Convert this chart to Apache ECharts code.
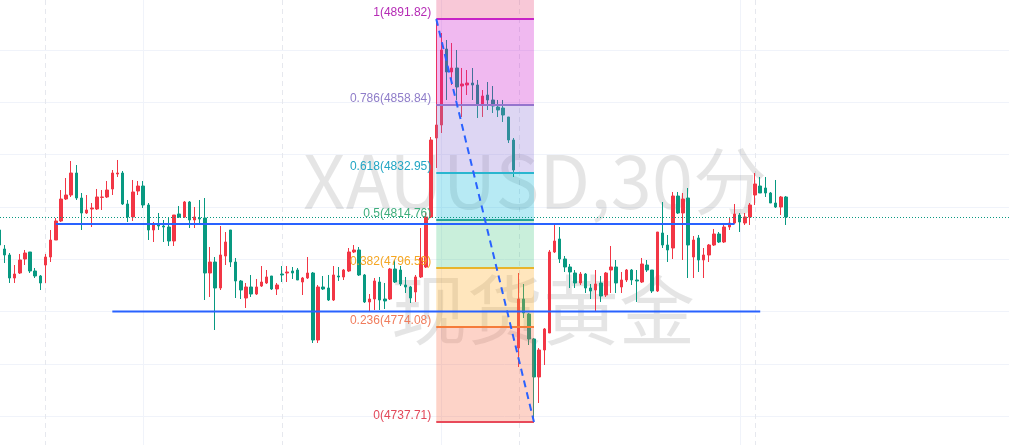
<!DOCTYPE html>
<html><head><meta charset="utf-8">
<script src="https://cdn.jsdelivr.net/npm/echarts@6/dist/echarts.min.js"></script>
<style>html,body{margin:0;padding:0;background:#fff}#c{width:1009px;height:445px}</style>
</head><body><div id="c"></div>
<script>
// ---- data: 30-minute XAUUSD candles [open, close, low, high] ----
const ohlc = [
[4811.13,4805.39,4803.48,4812.66],[4803.86,4801.57,4798.51,4805.39],[4801.57,4792.77,4790.86,4802.33],[4792.77,4794.30,4790.86,4797.74],
[4794.68,4799.66,4794.30,4801.95],[4800.04,4802.33,4797.74,4803.48],[4802.72,4795.45,4794.68,4802.72],[4795.45,4793.54,4792.77,4796.60],
[4793.54,4790.86,4788.18,4793.92],[4797.74,4800.80,4790.86,4801.95],[4800.80,4807.30,4798.89,4811.13],[4807.30,4814.57,4807.30,4815.72],
[4814.57,4822.98,4814.19,4826.42],[4822.98,4824.51,4822.60,4831.01],[4824.51,4832.92,4823.75,4837.51],[4832.92,4823.36,4822.60,4835.98],
[4823.36,4817.63,4811.13,4825.28],[4817.63,4818.78,4817.25,4824.51],[4819.16,4819.54,4812.28,4821.45],[4819.16,4823.75,4818.78,4826.81],
[4823.60,4823.75,4818.78,4826.42],[4823.75,4826.42,4823.36,4829.87],[4826.81,4832.92,4824.51,4834.07],[4832.54,4832.92,4831.40,4837.90],
[4832.92,4821.07,4820.69,4833.69],[4821.07,4816.10,4814.19,4822.60],[4816.10,4825.66,4814.57,4830.25],[4826.04,4827.95,4824.51,4829.87],
[4827.95,4820.69,4819.54,4829.87],[4820.69,4811.13,4807.30,4821.45],[4811.13,4813.04,4806.54,4814.19],[4813.42,4812.66,4811.13,4817.63],
[4812.66,4812.28,4806.54,4814.95],[4812.28,4806.92,4805.01,4815.72],[4806.92,4816.86,4805.01,4816.86],[4817.25,4816.10,4815.72,4820.31],
[4816.10,4821.84,4815.72,4822.22],[4821.84,4814.95,4811.89,4822.22],[4814.95,4816.10,4811.89,4819.92],[4815.72,4815.33,4813.42,4822.60],
[4815.72,4794.68,4784.36,4823.36],[4794.68,4798.89,4785.51,4804.63],[4798.89,4788.95,4772.89,4800.80],[4788.95,4801.57,4788.18,4812.66],
[4801.19,4806.54,4797.74,4810.36],[4811.13,4798.89,4796.98,4811.13],[4798.89,4791.63,4785.12,4800.42],[4791.63,4788.18,4784.74,4792.01],
[4785.12,4789.33,4781.30,4790.86],[4789.33,4786.65,4785.51,4793.92],[4786.65,4789.33,4786.27,4792.39],[4789.71,4791.24,4789.33,4797.36],
[4790.86,4793.16,4790.48,4795.83],[4793.54,4788.57,4788.18,4793.54],[4788.57,4790.10,4786.27,4790.86],[4794.30,4793.92,4791.24,4797.36],
[4794.68,4795.07,4791.24,4797.36],[4795.45,4794.68,4792.39,4796.98],[4795.83,4792.01,4792.01,4796.60],[4791.24,4792.77,4786.27,4793.16],
[4792.77,4794.68,4792.39,4800.80],[4794.68,4769.06,4767.92,4795.07],[4769.06,4789.33,4767.92,4790.10],[4789.33,4788.57,4788.18,4793.54],
[4788.95,4784.36,4783.98,4793.92],[4784.36,4793.92,4783.98,4797.36],[4793.54,4793.16,4791.63,4796.98],[4793.16,4795.83,4792.01,4796.21],
[4795.45,4802.72,4795.07,4804.24],[4802.72,4803.48,4802.33,4805.39],[4803.48,4793.92,4793.54,4804.63],[4793.92,4783.60,4783.21,4794.30],
[4783.60,4784.74,4779.77,4786.65],[4784.74,4791.63,4780.54,4792.77],[4791.24,4784.36,4780.54,4793.16],[4784.74,4783.98,4780.92,4790.86],
[4784.74,4796.21,4784.36,4796.60],[4796.21,4791.24,4790.86,4799.66],[4795.83,4790.48,4789.71,4797.36],[4790.10,4789.33,4787.04,4793.16],
[4789.33,4785.12,4783.21,4789.71],[4787.42,4793.16,4783.60,4793.92],[4793.16,4800.42,4792.77,4811.89],[4796.98,4816.10,4796.60,4817.63],
[4816.10,4845.54,4815.72,4846.69],[4846.31,4851.28,4834.84,4891.82],[4851.28,4879.96,4848.22,4886.46],[4880.34,4871.55,4860.84,4883.78],
[4871.55,4873.08,4866.58,4882.64],[4873.08,4865.81,4860.84,4879.96],[4866.19,4866.96,4854.34,4873.08],[4866.58,4867.34,4862.75,4872.31],
[4867.34,4866.58,4860.84,4873.08],[4866.58,4858.93,4853.96,4868.49],[4859.31,4862.37,4854.34,4864.66],[4862.75,4860.84,4857.02,4867.72],
[4860.84,4858.55,4855.87,4866.19],[4858.16,4857.02,4854.34,4860.84],[4857.78,4855.10,4852.43,4860.84],[4854.34,4845.54,4844.40,4854.34],
[4845.54,4834.07,4831.40,4846.31],[4766.00,4784.74,4758.74,4794.68],[4784.74,4779.39,4777.48,4790.48],[4779.01,4769.45,4767.15,4779.39],
[4769.45,4754.92,4737.71,4769.83],[4754.92,4765.24,4744.97,4766.00],[4765.24,4773.27,4759.50,4773.65],[4771.74,4802.72,4771.74,4803.48],
[4802.72,4806.92,4802.33,4813.80],[4807.69,4800.04,4798.51,4812.28],[4800.04,4796.98,4795.07,4801.19],[4796.98,4795.07,4788.95,4798.13],
[4794.68,4790.86,4788.95,4795.83],[4790.86,4794.30,4790.10,4795.07],[4794.30,4788.95,4787.04,4794.68],[4788.95,4787.80,4784.74,4790.48],
[4788.18,4790.48,4779.77,4795.83],[4790.86,4785.89,4783.60,4793.54],[4786.27,4794.68,4785.51,4795.07],[4795.83,4796.98,4787.04,4805.01],
[4796.98,4790.86,4787.04,4799.66],[4789.33,4792.01,4787.04,4795.07],[4792.01,4795.83,4791.24,4796.21],[4795.83,4792.01,4790.10,4796.21],
[4792.01,4791.63,4783.60,4795.83],[4791.24,4798.13,4790.86,4800.42],[4797.74,4795.83,4795.07,4799.66],[4795.83,4787.80,4787.04,4795.83],
[4787.80,4810.36,4787.42,4810.36],[4809.98,4805.39,4804.24,4821.84],[4805.39,4803.48,4798.89,4809.22],[4804.24,4824.13,4800.04,4825.66],
[4824.13,4817.63,4817.25,4825.66],[4817.63,4822.98,4799.66,4825.28],[4823.36,4805.39,4792.77,4827.19],[4800.80,4807.30,4792.77,4808.83],
[4808.07,4799.66,4795.07,4809.22],[4799.66,4801.57,4792.77,4804.24],[4801.57,4805.39,4798.89,4805.77],[4805.39,4809.60,4805.01,4811.51],
[4809.60,4806.54,4806.16,4810.36],[4806.54,4812.28,4806.16,4813.04],[4812.28,4813.80,4811.13,4815.72],[4813.80,4817.25,4813.42,4821.07],
[4816.86,4814.19,4810.36,4817.63],[4813.80,4816.10,4813.04,4817.63],[4816.10,4820.69,4813.04,4821.45],[4824.51,4828.72,4820.69,4832.92],
[4827.95,4825.28,4825.28,4831.40],[4827.19,4825.28,4823.75,4831.40],[4825.28,4821.45,4821.45,4825.66],[4821.45,4819.92,4819.54,4830.25],
[4819.92,4823.75,4816.86,4824.13],[4823.75,4816.10,4813.04,4824.13]
];
// Fibonacci retracement (anchors in bar index)
const fibLevels = [1, 0.786, 0.618, 0.5, 0.382, 0.236, 0];
const fibPrices = [4891.82, 4858.84, 4832.95, 4814.76, 4796.59, 4774.08, 4737.71];
const fibBars = [85, 104];
// horizontal trend lines [bar1, price1, bar2, price2]
const trendLines = [[11, 4813.4, 143, 4813.4], [22, 4780.0, 148, 4780.0]];
// grid
const gridPrices = [4740, 4760, 4780, 4800, 4820, 4840, 4860, 4880];
const timeGridBars = [28, 86, 144];
const sessionBars = [9, 55, 101, 147];
const watermark = ['XAUUSD,30分', '现货黄金'];

// ---- styles ----
const UP = '#f23645', DOWN = '#089981';
const fibFill = ['rgba(232,72,122,0.3)','rgba(205,22,205,0.3)','rgba(142,118,215,0.3)','rgba(15,185,218,0.3)','rgba(75,202,135,0.3)','rgba(255,172,35,0.3)','rgba(248,108,72,0.3)'];
const fibLine = ['#c724c7','#9575cd','#29b6cf','#26a69a','#e8b42a','#f57c3a','#e84a5a'];
const fibText = ['#b52bb5','#8f7dc9','#22a6c4','#3fae7c','#f5a623','#f07c5c','#e2485a'];
const Y_MIN = 4728.91, Y_MAX = 4899.08, X_MIN = 0.156, X_MAX = 196.38;

const chart = echarts.init(document.getElementById('c'), null, {renderer: 'canvas'});
const crisp = v => Math.round(v) + 0.5;

const option = {
  animation: false,
  grid: {left: 0, right: 0, top: 0, bottom: 0},
  xAxis: {type: 'value', min: X_MIN, max: X_MAX, show: false},
  yAxis: {type: 'value', min: Y_MIN, max: Y_MAX, show: false},
  graphic: [
    {type: 'text', x: 535, y: 181, z: 1, silent: true,
     style: {text: watermark[0], fontSize: 74, fontFamily: 'Noto Sans CJK SC', fill: 'rgba(0,0,0,0.1)', align: 'center', verticalAlign: 'middle'}},
    {type: 'text', x: 543, y: 310, z: 1, silent: true,
     style: {text: watermark[1], fontSize: 76, fontFamily: 'Noto Sans CJK SC', fill: 'rgba(0,0,0,0.1)', align: 'center', verticalAlign: 'middle'}}
  ],
  series: [
    { // horizontal grid lines
      type: 'custom', z: 0, silent: true, data: gridPrices.map(p => [p]),
      renderItem: (params, api) => {
        const cs = params.coordSys; const y = crisp(api.coord([X_MIN, api.value(0)])[1]);
        return {type: 'line', shape: {x1: cs.x, y1: y, x2: cs.x + cs.width, y2: y}, style: {stroke: '#f0f3fa', lineWidth: 1}};
      }
    },
    { // vertical time grid lines
      type: 'custom', z: 0, silent: true, data: timeGridBars.map(b => [b]),
      renderItem: (params, api) => {
        const cs = params.coordSys; const x = crisp(api.coord([api.value(0), Y_MIN])[0]);
        return {type: 'line', shape: {x1: x, y1: cs.y, x2: x, y2: cs.y + cs.height}, style: {stroke: '#f0f3fa', lineWidth: 1}};
      }
    },
    { // session breaks
      type: 'custom', z: 0, silent: true, data: sessionBars.map(b => [b]),
      renderItem: (params, api) => {
        const cs = params.coordSys; const x = crisp(api.coord([api.value(0), Y_MIN])[0]);
        return {type: 'line', shape: {x1: x, y1: cs.y, x2: x, y2: cs.y + cs.height}, style: {stroke: '#e6e8ee', lineWidth: 1, lineDash: [5, 4]}};
      }
    },
    {
      type: 'candlestick', z: 2, barWidth: 3, clip: true,
      encode: {x: 0, y: [1, 2, 3, 4]},
      data: ohlc.map((r, i) => [i, r[0], r[1], r[2], r[3]]),
      itemStyle: {color: UP, color0: DOWN, borderColor: UP, borderColor0: DOWN, borderWidth: 1}
    },
    { // last price dotted line
      type: 'custom', z: 5, silent: true, data: [[ohlc[ohlc.length - 1][1]]],
      renderItem: (params, api) => {
        const cs = params.coordSys; const y = crisp(api.coord([X_MIN, api.value(0)])[1]);
        return {type: 'line', shape: {x1: cs.x, y1: y, x2: cs.x + cs.width, y2: y}, style: {stroke: DOWN, lineWidth: 1, lineDash: [1, 2]}};
      }
    },
    { // fib fills
      type: 'custom', z: 3, silent: true, data: fibPrices.map((p, k) => [k]),
      renderItem: (params, api) => {
        const k = params.dataIndex;
        const top = k === 0 ? Y_MAX : fibPrices[k - 1];
        const bot = fibPrices[k];
        const p1 = api.coord([fibBars[0], top]), p2 = api.coord([fibBars[1], bot]);
        return {type: 'rect', shape: {x: p1[0], y: p1[1], width: p2[0] - p1[0], height: p2[1] - p1[1]}, style: {fill: fibFill[k]}};
      }
    },
    { // fib level lines + labels
      type: 'custom', z: 4, silent: true, data: fibPrices.map((p, k) => [k]),
      renderItem: (params, api) => {
        const k = params.dataIndex;
        const p1 = api.coord([fibBars[0], fibPrices[k]]), p2 = api.coord([fibBars[1], fibPrices[k]]);
        const y = Math.round(p1[1]);
        return {type: 'group', children: [
          {type: 'line', shape: {x1: p1[0], y1: y, x2: p2[0], y2: y}, style: {stroke: fibLine[k], lineWidth: 2}},
          {type: 'text', x: p1[0] - 5, y: y - 6.5, style: {text: fibLevels[k] + '(' + fibPrices[k].toFixed(2) + ')', fill: fibText[k], fontSize: 12, fontFamily: 'Liberation Sans', align: 'right', verticalAlign: 'middle'}}
        ]};
      }
    },
    { // trend lines
      type: 'custom', z: 5, silent: true, data: trendLines,
      renderItem: (params, api) => {
        const a = api.coord([api.value(0), api.value(1)]), b = api.coord([api.value(2), api.value(3)]);
        return {type: 'line', shape: {x1: a[0], y1: a[1], x2: b[0], y2: b[1]}, style: {stroke: '#2962ff', lineWidth: 2}};
      }
    },
    { // fib diagonal
      type: 'custom', z: 5, silent: true, data: [[fibBars[0], fibPrices[0], fibBars[1], fibPrices[fibPrices.length - 1]]],
      renderItem: (params, api) => {
        const a = api.coord([api.value(0), api.value(1)]), b = api.coord([api.value(2), api.value(3)]);
        return {type: 'line', shape: {x1: a[0], y1: a[1], x2: b[0], y2: b[1]}, style: {stroke: '#2962ff', lineWidth: 2, lineDash: [7, 5]}};
      }
    }
  ]
};
chart.setOption(option);
</script></body></html>
